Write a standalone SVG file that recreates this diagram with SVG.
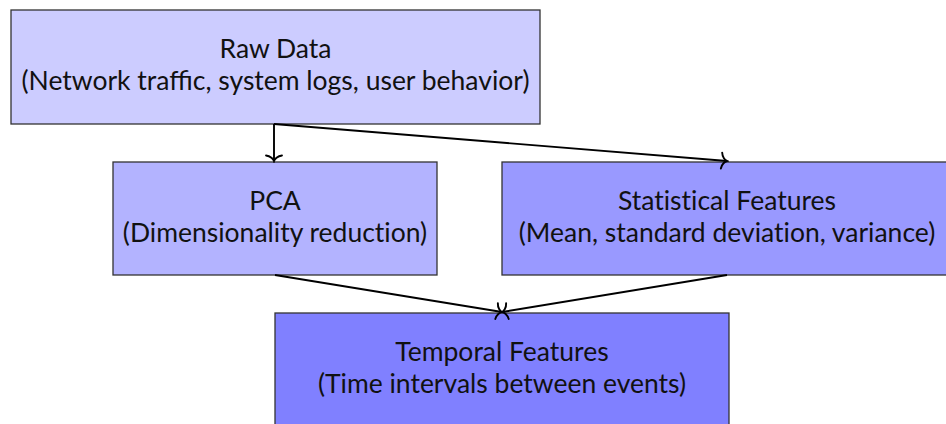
<svg xmlns="http://www.w3.org/2000/svg" width="946" height="424" viewBox="0 0 946 424">
  <style>
    .box { stroke: #333; stroke-width: 1.3; }
    .lbl { font-family: Lato, "Open Sans", "Liberation Sans", sans-serif; font-size: 26.5px; fill: #111; text-anchor: middle; font-variant-ligatures: none; }
    .liga { font-variant-ligatures: common-ligatures; }
    .edge { fill: none; stroke: #000; stroke-width: 1.9; }
  </style>
  <defs>
    <!-- curved "to"-style open arrow tip -->
    <marker id="tip" viewBox="-10 -10 12 20" markerWidth="12" markerHeight="20" refX="0" refY="0" orient="auto" markerUnits="userSpaceOnUse">
      <path d="M -5.5 -8 C -5 -3.5 -2 -0.6 0 0 C -2 0.6 -5 3.5 -5.5 8" fill="none" stroke="#000" stroke-width="1.9" stroke-linecap="round"/>
    </marker>
  </defs>

  <g id="raw-data">
    <rect class="box" x="11" y="10" width="529" height="114" fill="#ccccff"/>
    <text class="lbl" x="275.5" y="58">Raw Data</text>
    <text class="lbl liga" x="275.5" y="90">(Network traffic, system logs, user behavior)</text>
  </g>

  <g id="pca">
    <rect class="box" x="113" y="162" width="324" height="113" fill="#b3b3ff"/>
    <text class="lbl" x="275" y="210">PCA</text>
    <text class="lbl" x="275" y="242">(Dimensionality reduction)</text>
  </g>

  <g id="statistical-features">
    <rect class="box" x="502" y="162" width="445" height="113" fill="#9999ff"/>
    <text class="lbl" x="727" y="210">Statistical Features</text>
    <text class="lbl" x="727" y="242">(Mean, standard deviation, variance)</text>
  </g>

  <g id="temporal-features">
    <rect class="box" x="275" y="313" width="454" height="120" fill="#8080ff"/>
    <text class="lbl" x="502" y="361">Temporal Features</text>
    <text class="lbl" x="502" y="393">(Time intervals between events)</text>
  </g>

  <g id="connectors">
    <line class="edge" x1="274" y1="124" x2="274" y2="161" marker-end="url(#tip)"/>
    <line class="edge" x1="274" y1="124" x2="727" y2="161" marker-end="url(#tip)"/>
    <line class="edge" x1="275" y1="275" x2="502" y2="312" marker-end="url(#tip)"/>
    <line class="edge" x1="727" y1="275" x2="502" y2="312" marker-end="url(#tip)"/>
  </g>
</svg>
